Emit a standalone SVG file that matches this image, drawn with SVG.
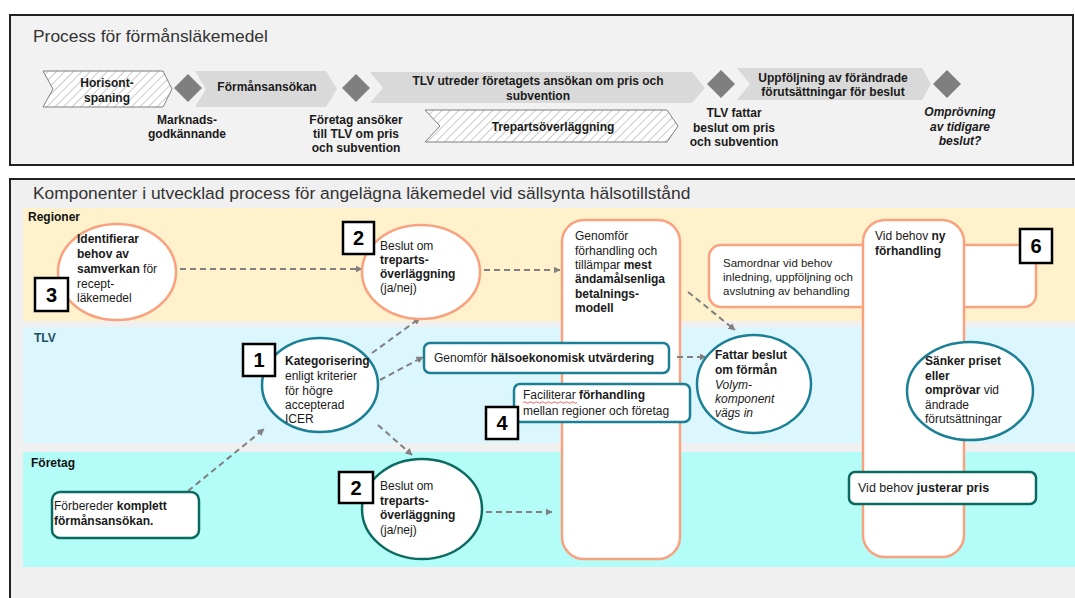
<svg xmlns="http://www.w3.org/2000/svg" width="1075" height="598" viewBox="0 0 1075 598">
<style>
.t{font-family:"Liberation Sans",Arial,sans-serif;font-size:12px;fill:#1a1a1a}
.b{font-weight:bold}
.i{font-style:italic}
.c{text-anchor:middle}
.title{font-family:"Liberation Sans",Arial,sans-serif;font-size:17.4px;fill:#333}
.chev{fill:#d9d9d9}
.hat{fill:url(#hatch);stroke:#7f7f7f;stroke-width:1}
.dia{fill:#7f7f7f}
.conn{stroke:#808080;stroke-width:2;stroke-dasharray:6 4;fill:none;marker-end:url(#ah)}
.sal{fill:#fff;stroke:#f9a27f;stroke-width:2.5}
.tlv{fill:#fff;stroke:#1b7f95;stroke-width:2.5}
.foe{fill:#fff;stroke:#0c6b60;stroke-width:2.5}
.num{fill:#fff;stroke:#000;stroke-width:2.5}
.numt{font-family:"Liberation Sans",Arial,sans-serif;font-size:20px;font-weight:bold;text-anchor:middle;fill:#000}
.lane{font-family:"Liberation Sans",Arial,sans-serif;font-size:12px;font-weight:bold;fill:#111}
</style>
<defs>
<pattern id="hatch" width="6" height="6" patternUnits="userSpaceOnUse" patternTransform="rotate(45)">
<rect width="6" height="6" fill="#fff"/>
<line x1="0" y1="0" x2="0" y2="6" stroke="#bdbdbd" stroke-width="1.6"/>
</pattern>
<marker id="ah" viewBox="0 0 10 10" refX="9" refY="5" markerWidth="3.6" markerHeight="3.6" orient="auto">
<path d="M0,0 L10,5 L0,10z" fill="#808080"/>
</marker>
</defs>

<!-- Top panel -->
<g id="top-panel">
<rect x="10" y="15" width="1063" height="150" fill="#f2f2f2" stroke="#222" stroke-width="2"/>
<text class="title" x="33" y="42">Process för förmånsläkemedel</text>
</g>
<g id="chevron-horisont">
<polygon class="hat" points="43,71 163,71 172,89 163,107 43,107 53,89"/>
<text class="t b c" x="107" y="87">Horisont-</text>
<text class="t b c" x="107" y="102">spaning</text>
</g>
<g id="chevron-formansansokan">
<polygon class="chev" points="195,71 326,71 337,89 326,107 195,107 206,89"/>
<text class="t b c" x="267" y="91">Förmånsansökan</text>
</g>
<g id="chevron-tlv-utreder">
<polygon class="chev" points="370,72 692,72 705,88 692,103 370,103 383,88"/>
<text class="t b c" x="538" y="85">TLV utreder företagets ansökan om pris och</text>
<text class="t b c" x="538" y="100">subvention</text>
</g>
<g id="chevron-trepart">
<polygon class="hat" points="425,110 667,110 678,126 667,142 425,142 440,126"/>
<text class="t b c" x="553" y="131">Trepartsöverläggning</text>
</g>
<g id="chevron-uppfoljning">
<polygon class="chev" points="737,68 922,68 931,84 922,100 737,100 750,84"/>
<text class="t b c" x="833" y="82">Uppföljning av förändrade</text>
<text class="t b c" x="833" y="96">förutsättningar för beslut</text>
</g>
<g id="milestone-marknad">
<polygon class="dia" points="188,74 202,88 188,102 174,88"/>
<text class="t b c" x="187" y="124">Marknads-</text>
<text class="t b c" x="187" y="138">godkännande</text>
</g>
<g id="milestone-ansoker">
<polygon class="dia" points="356,74 370,88 356,102 342,88"/>
<text class="t b c" x="356" y="124">Företag ansöker</text>
<text class="t b c" x="356" y="138">till TLV om pris</text>
<text class="t b c" x="356" y="152">och subvention</text>
</g>
<g id="milestone-beslut">
<polygon class="dia" points="721,70 735,84 721,98 707,84"/>
<text class="t b c" x="734" y="117">TLV fattar</text>
<text class="t b c" x="734" y="132">beslut om pris</text>
<text class="t b c" x="734" y="146">och subvention</text>
</g>
<g id="milestone-omprovning">
<polygon class="dia" points="947,70 961,84 947,98 933,84"/>
<text class="t b i c" x="960" y="116">Omprövning</text>
<text class="t b i c" x="960" y="131">av tidigare</text>
<text class="t b i c" x="960" y="145">beslut?</text>
</g>

<!-- Bottom panel -->
<g id="bottom-panel">
<rect x="10" y="179" width="1075" height="430" fill="#f0f0f0" stroke="#222" stroke-width="2"/>
<text class="title" x="33" y="199">Komponenter i utvecklad process för angelägna läkemedel vid sällsynta hälsotillstånd</text>
<rect x="23" y="208" width="1052" height="113" fill="#fef1cc"/>
<rect x="23" y="327" width="1052" height="116" fill="#dcf6fd"/>
<rect x="23" y="452" width="1052" height="115" fill="#b4fcf8"/>
<text class="lane" x="28" y="221">Regioner</text>
<text class="lane" x="34" y="342" style="fill:#1d4f5e">TLV</text>
<text class="lane" x="31" y="467">Företag</text>
</g>

<!-- tall rects -->
<g id="n-genomfor-forhandling">
<rect class="sal" x="562" y="220" width="118" height="339" rx="22"/>
<text class="t" x="575" y="240">Genomför</text>
<text class="t" x="575" y="255">förhandling och</text>
<text class="t" x="575" y="269">tillämpar <tspan class="b">mest</tspan></text>
<text class="t b" x="575" y="283">ändamålsenliga</text>
<text class="t b" x="575" y="298">betalnings-</text>
<text class="t b" x="575" y="312">modell</text>
</g>
<g id="n-samordnar">
<rect class="sal" x="709" y="245" width="327" height="62" rx="12"/>
<text class="t" x="723" y="267" style="font-size:11.5px">Samordnar vid behov</text>
<text class="t" x="723" y="281" style="font-size:11.5px">inledning, uppföljning och</text>
<text class="t" x="723" y="295" style="font-size:11.5px">avslutning av behandling</text>
</g>
<g id="n-ny-forhandling">
<rect class="sal" x="863" y="220" width="101" height="337" rx="22"/>
<text class="t" x="875" y="240">Vid behov <tspan class="b">ny</tspan></text>
<text class="t b" x="875" y="255">förhandling</text>
</g>

<!-- connectors -->
<g id="connectors">
<line class="conn" x1="180" y1="269" x2="362" y2="269"/>
<line class="conn" x1="484" y1="270" x2="560" y2="270"/>
<line class="conn" x1="688" y1="292" x2="735" y2="330"/>
<line class="conn" x1="188" y1="491" x2="264" y2="429"/>
<line class="conn" x1="372" y1="353" x2="420" y2="318"/>
<line class="conn" x1="380" y1="380" x2="423" y2="357"/>
<line class="conn" x1="378" y1="425" x2="412" y2="455"/>
<line class="conn" x1="677" y1="357" x2="706" y2="357"/>
<line class="conn" x1="486" y1="512" x2="552" y2="512"/>
</g>

<!-- Regioner nodes -->
<g id="n-identifierar">
<ellipse class="sal" cx="117" cy="272" rx="59" ry="48"/>
<text class="t b" x="77" y="243">Identifierar</text>
<text class="t b" x="77" y="258">behov av</text>
<text class="t" x="77" y="273"><tspan class="b">samverkan</tspan> för</text>
<text class="t" x="77" y="288">recept-</text>
<text class="t" x="77" y="302">läkemedel</text>
</g>
<g id="badge-3">
<rect class="num" x="35" y="278" width="33" height="33"/>
<text class="numt" x="51.5" y="302">3</text>
</g>
<g id="n-beslut-regioner">
<ellipse class="sal" cx="421" cy="272" rx="59" ry="47"/>
<text class="t" x="380" y="250">Beslut om</text>
<text class="t b" x="380" y="264">treparts-</text>
<text class="t b" x="380" y="278">överläggning</text>
<text class="t" x="380" y="292">(ja/nej)</text>
</g>
<g id="badge-2a">
<rect class="num" x="343" y="222" width="31" height="32"/>
<text class="numt" x="358.5" y="245">2</text>
</g>
<g id="badge-6">
<rect class="num" x="1020" y="229" width="32" height="34"/>
<text class="numt" x="1036" y="253">6</text>
</g>

<!-- TLV nodes -->
<g id="n-kategorisering">
<ellipse class="tlv" cx="320" cy="385" rx="58" ry="47"/>
<text class="t b" x="285" y="365">Kategorisering</text>
<text class="t" x="285" y="380">enligt kriterier</text>
<text class="t" x="285" y="395">för högre</text>
<text class="t" x="285" y="409">accepterad</text>
<text class="t" x="285" y="423">ICER</text>
</g>
<g id="badge-1">
<rect class="num" x="243" y="344" width="32" height="32"/>
<text class="numt" x="259" y="367">1</text>
</g>
<g id="n-halsoekonomisk">
<rect class="tlv" x="424" y="343" width="245" height="30" rx="6"/>
<text class="t" x="434" y="362">Genomför <tspan class="b">hälsoekonomisk utvärdering</tspan></text>
</g>
<g id="n-faciliterar">
<rect class="tlv" x="514" y="384" width="176" height="38" rx="6"/>
<text class="t" x="523" y="399">Faciliterar <tspan class="b">förhandling</tspan></text>
<text class="t" x="523" y="415">mellan regioner och företag</text>
<path d="M523,402.5 q1.5,-1.5 3,0 t3,0 t3,0 t3,0 t3,0 t3,0 t3,0 t3,0 t3,0 t3,0 t3,0 t3,0 t3,0 t3,0 t3,0 t3,0 t3,0 t3,0" fill="none" stroke="#e53935" stroke-width="0.8"/>
</g>
<g id="badge-4">
<rect class="num" x="486" y="407" width="32" height="32"/>
<text class="numt" x="502" y="430">4</text>
</g>
<g id="n-fattar-beslut">
<ellipse class="tlv" cx="754" cy="384" rx="57" ry="49"/>
<text class="t b" x="715" y="359">Fattar beslut</text>
<text class="t b" x="715" y="374">om förmån</text>
<text class="t i" x="715" y="389">Volym-</text>
<text class="t i" x="715" y="403">komponent</text>
<text class="t i" x="715" y="417">vägs in</text>
</g>
<g id="n-sanker">
<ellipse class="tlv" cx="970" cy="391" rx="63" ry="49"/>
<text class="t b" x="925" y="365">Sänker priset</text>
<text class="t b" x="925" y="380">eller</text>
<text class="t" x="925" y="394"><tspan class="b">omprövar</tspan> vid</text>
<text class="t" x="925" y="409">ändrade</text>
<text class="t" x="925" y="423">förutsättningar</text>
</g>

<!-- Företag nodes -->
<g id="n-forbereder">
<rect class="foe" x="52" y="492" width="147" height="46" rx="8"/>
<text class="t" x="54" y="510">Förbereder <tspan class="b">komplett</tspan></text>
<text class="t b" x="54" y="525">förmånsansökan.</text>
</g>
<g id="n-beslut-foretag">
<ellipse class="foe" cx="422" cy="509" rx="60" ry="50"/>
<text class="t" x="380" y="490">Beslut om</text>
<text class="t b" x="380" y="505">treparts-</text>
<text class="t b" x="380" y="519">överläggning</text>
<text class="t" x="380" y="534">(ja/nej)</text>
</g>
<g id="badge-2b">
<rect class="num" x="339" y="472" width="34" height="31"/>
<text class="numt" x="356" y="495">2</text>
</g>
<g id="n-justerar">
<rect class="foe" x="849" y="472" width="187" height="32" rx="6"/>
<text class="t" x="858" y="492" style="font-size:12.5px">Vid behov <tspan class="b">justerar pris</tspan></text>
</g>
</svg>
